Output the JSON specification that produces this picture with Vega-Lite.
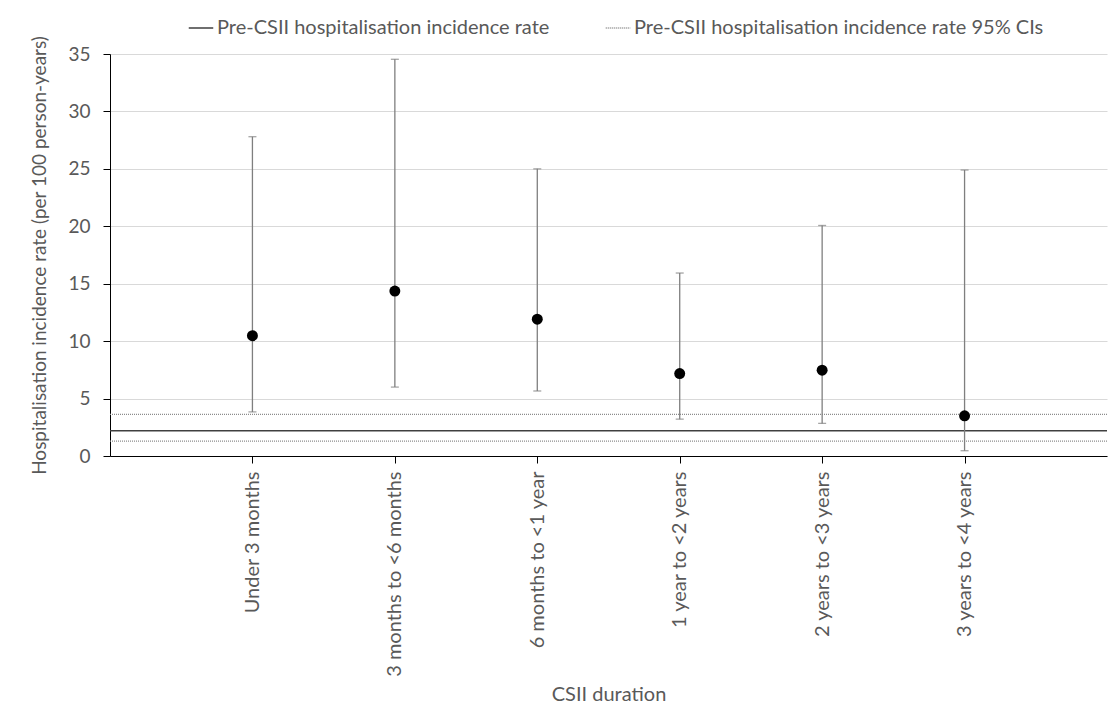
{
  "$schema": "https://vega.github.io/schema/vega-lite/v6.json",
  "width": 997,
  "height": 402,
  "autosize": {"type": "none"},
  "padding": {"left": 110, "top": 54, "right": 2, "bottom": 262},
  "background": "white",
  "config": {
    "view": {"stroke": null},
    "font": "Lato",
    "axis": {
      "labelColor": "#595959",
      "titleColor": "#595959",
      "labelFont": "Lato",
      "titleFont": "Lato",
      "titleFontWeight": "normal",
      "domainColor": "#000000",
      "tickColor": "#000000",
      "gridColor": "#d9d9d9"
    }
  },
  "datasets": {
    "rates": [
      {"duration": "Under 3 months", "rate": 10.47, "lower": 3.84, "upper": 27.8},
      {"duration": "3 months to <6 months", "rate": 14.36, "lower": 6.0, "upper": 34.54},
      {"duration": "6 months to <1 year", "rate": 11.91, "lower": 5.66, "upper": 25.0},
      {"duration": "1 year to <2 years", "rate": 7.18, "lower": 3.21, "upper": 15.93},
      {"duration": "2 years to <3 years", "rate": 7.47, "lower": 2.84, "upper": 20.07},
      {"duration": "3 years to <4 years", "rate": 3.5, "lower": 0.46, "upper": 24.9}
    ],
    "ref": [
      {"series": "Pre-CSII hospitalisation incidence rate", "id": "rate", "value": 2.2},
      {"series": "Pre-CSII hospitalisation incidence rate 95% CIs", "id": "upperCI", "value": 3.62},
      {"series": "Pre-CSII hospitalisation incidence rate 95% CIs", "id": "lowerCI", "value": 1.3}
    ]
  },
  "layer": [
    {
      "data": {"name": "ref"},
      "mark": {"type": "rule", "strokeWidth": 1.3},
      "encoding": {
        "y": {
          "field": "value",
          "type": "quantitative",
          "scale": {"domain": [0, 35]},
          "axis": {
            "values": [0, 5, 10, 15, 20, 25, 30, 35],
            "title": "Hospitalisation incidence rate (per 100 person-years)",
            "titleFontSize": 19,
            "titlePadding": 18,
            "labelFontSize": 19,
            "labelPadding": 13,
            "tickSize": 7,
            "grid": true
          }
        },
        "detail": {"field": "id"},
        "color": {
          "field": "series",
          "type": "nominal",
          "scale": {
            "domain": ["Pre-CSII hospitalisation incidence rate", "Pre-CSII hospitalisation incidence rate 95% CIs"],
            "range": ["#404040", "#8c8c8c"]
          },
          "legend": {
            "orient": "none",
            "legendX": 78,
            "legendY": -39,
            "direction": "horizontal",
            "title": null,
            "symbolType": "stroke",
            "symbolSize": 600,
            "symbolStrokeWidth": 1.5,
            "labelFontSize": 20,
            "labelColor": "#595959",
            "labelFont": "Lato",
            "labelLimit": 700,
            "labelOffset": 3,
            "columnPadding": 52
          }
        },
        "strokeDash": {
          "field": "series",
          "type": "nominal",
          "scale": {
            "domain": ["Pre-CSII hospitalisation incidence rate", "Pre-CSII hospitalisation incidence rate 95% CIs"],
            "range": [[1, 0], [1, 1]]
          },
          "legend": {
            "orient": "none",
            "legendX": 78,
            "legendY": -39,
            "direction": "horizontal",
            "title": null,
            "symbolType": "stroke",
            "symbolSize": 600,
            "symbolStrokeWidth": 1.5,
            "labelFontSize": 20,
            "labelColor": "#595959",
            "labelFont": "Lato",
            "labelLimit": 700,
            "labelOffset": 3,
            "columnPadding": 52
          }
        }
      }
    },
    {
      "data": {"name": "rates"},
      "mark": {"type": "rule", "color": "#7f7f7f", "strokeWidth": 1.3},
      "encoding": {
        "x": {
          "field": "duration",
          "type": "nominal",
          "sort": ["Under 3 months", "3 months to <6 months", "6 months to <1 year", "1 year to <2 years", "2 years to <3 years", "3 years to <4 years"],
          "scale": {"type": "point", "padding": 1},
          "axis": {
            "title": "CSII duration",
            "titleFontSize": 20,
            "labelFontSize": 20,
            "labelAngle": -90,
            "labelPadding": 8,
            "labelLimit": 400,
            "tickSize": 7,
            "titlePadding": 28,
            "grid": false
          }
        },
        "y": {"field": "lower", "type": "quantitative"},
        "y2": {"field": "upper"}
      }
    },
    {
      "data": {"name": "rates"},
      "mark": {"type": "tick", "color": "#7f7f7f", "size": 8, "thickness": 1.3},
      "encoding": {
        "x": {"field": "duration", "type": "nominal", "sort": ["Under 3 months", "3 months to <6 months", "6 months to <1 year", "1 year to <2 years", "2 years to <3 years", "3 years to <4 years"]},
        "y": {"field": "lower", "type": "quantitative"}
      }
    },
    {
      "data": {"name": "rates"},
      "mark": {"type": "tick", "color": "#7f7f7f", "size": 8, "thickness": 1.3},
      "encoding": {
        "x": {"field": "duration", "type": "nominal", "sort": ["Under 3 months", "3 months to <6 months", "6 months to <1 year", "1 year to <2 years", "2 years to <3 years", "3 years to <4 years"]},
        "y": {"field": "upper", "type": "quantitative"}
      }
    },
    {
      "data": {"name": "rates"},
      "mark": {"type": "point", "filled": true, "shape": "circle", "color": "#000000", "size": 120, "opacity": 1},
      "encoding": {
        "x": {"field": "duration", "type": "nominal", "sort": ["Under 3 months", "3 months to <6 months", "6 months to <1 year", "1 year to <2 years", "2 years to <3 years", "3 years to <4 years"]},
        "y": {"field": "rate", "type": "quantitative"}
      }
    }
  ]
}
